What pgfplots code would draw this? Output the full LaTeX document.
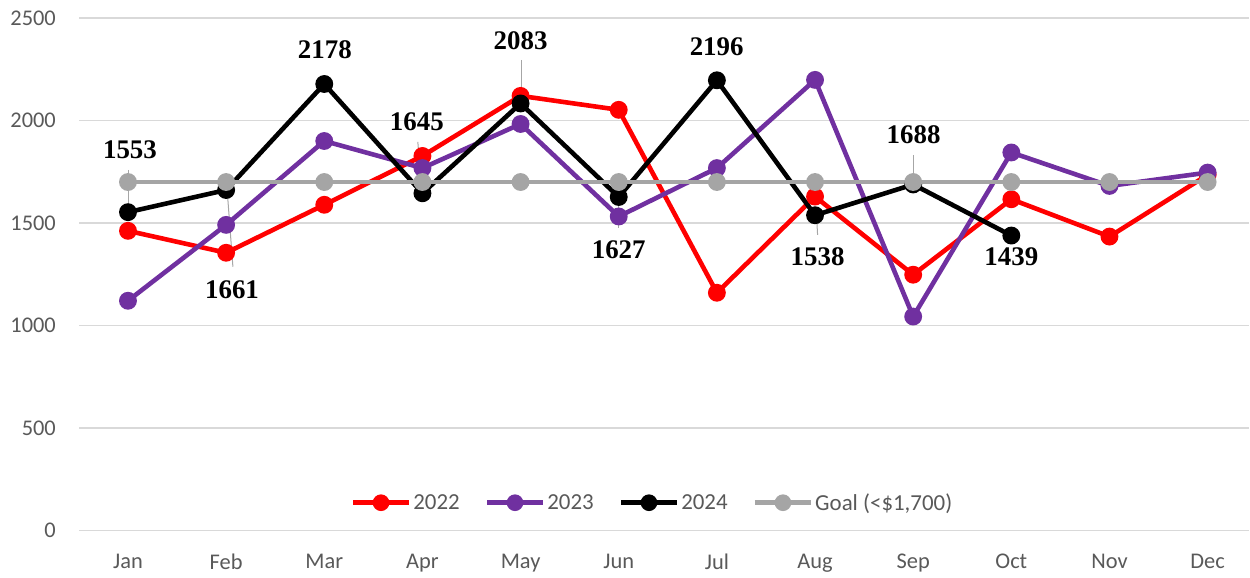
\documentclass[border=0pt]{standalone}
\usepackage{pgfplots}
\pgfplotsset{compat=1.18}
\usepackage{fontspec}
\setmainfont{Carlito}
\newfontfamily\labfont{Liberation Serif}
\definecolor{c22}{HTML}{FF0000}
\definecolor{c23}{HTML}{7030A0}
\definecolor{goal}{HTML}{A5A5A5}
\definecolor{grd}{HTML}{D9D9D9}
\definecolor{tk}{HTML}{595959}
\definecolor{lead}{HTML}{A6A6A6}
\begin{document}
\begin{tikzpicture}
\begin{axis}[
  width=1171bp, height=513bp, scale only axis,
  xmin=-0.499, xmax=11.425, ymin=0, ymax=2500,
  axis line style={draw=none},
  ytick={0,500,1000,1500,2000,2500},
  ymajorgrids, grid style={grd, line width=1.3bp},
  xtick={0,...,11},
  xticklabels={Jan,Feb,Mar,Apr,May,Jun,Jul,Aug,Sep,Oct,Nov,Dec},
  major tick length=0pt,
  /pgf/number format/assume math mode=true,
  /pgf/number format/1000 sep={},
  tick label style={font=\fontsize{22.5}{26}\selectfont, text=tk},
  yticklabel style={anchor=east, inner sep=0pt, xshift=-23bp},
  xticklabel style={anchor=north, inner sep=0pt, yshift=-23bp},
  clip=false,
  every axis plot/.append style={line width=4.6bp, mark=*, mark size=6.6bp, mark options={solid}},
  legend columns=4,
  legend style={at={(rel axis cs:0.490,0.0545)}, anchor=center, draw=none, fill=white,
    font=\fontsize{23}{26}\selectfont, text=tk,
    nodes={inner sep=2bp},
    /tikz/every even column/.append style={column sep=23bp},
    inner sep=1bp},
  legend image code/.code={\draw[mark repeat=2,mark phase=2,mark size=6bp] plot coordinates {(0bp,0bp) (28bp,0bp) (56bp,0bp)};},
]
\path (rel axis cs:-0.0675,-0.0916) rectangle (rel axis cs:1,1.035);

\addplot[c22] coordinates {(0,1462) (1,1355) (2,1589) (3,1827) (4,2120) (5,2052) (6,1160) (7,1629) (8,1248) (9,1616) (10,1434) (11,1735)};
\addlegendentry{2022}
\addplot[c23] coordinates {(0,1121) (1,1491) (2,1900) (3,1768) (4,1983) (5,1532) (6,1768) (7,2198) (8,1044) (9,1844) (10,1681) (11,1746)};
\addlegendentry{2023}
\addplot[black] coordinates {(0,1553) (1,1661) (2,2178) (3,1645) (4,2083) (5,1627) (6,2196) (7,1538) (8,1688) (9,1439)};
\addlegendentry{2024}
\addplot[goal] coordinates {(0,1700) (1,1700) (2,1700) (3,1700) (4,1700) (5,1700) (6,1700) (7,1700) (8,1700) (9,1700) (10,1700) (11,1700)};
\addlegendentry{Goal (<\$1,700)}

% leader lines
\draw[lead, line width=1bp] (axis cs:0.01,1759) -- (axis cs:0.01,1553);
\draw[lead, line width=1bp] (axis cs:1.008,1676) -- (axis cs:1.069,1287);
\draw[lead, line width=1bp] (axis cs:2.953,1896) -- (axis cs:2.994,1647);
\draw[lead, line width=1bp] (axis cs:4.012,2295) -- (axis cs:4.012,2086);
\draw[lead, line width=1bp] (axis cs:5.0,1623) -- (axis cs:5.0,1477);
\draw[lead, line width=1bp] (axis cs:7.016,1530) -- (axis cs:7.026,1442);
\draw[lead, line width=1bp] (axis cs:8.004,1832) -- (axis cs:8.004,1701);

% data labels
\begin{scope}[every node/.style={font=\labfont\bfseries\fontsize{27}{30}\selectfont, text=black}]
\node at (axis cs:0.02,1857) {1553};
\node at (axis cs:1.06,1174) {1661};
\node at (axis cs:2.006,2344) {2178};
\node at (axis cs:2.943,1993) {1645};
\node at (axis cs:4.0,2388) {2083};
\node at (axis cs:5.0,1369) {1627};
\node at (axis cs:5.998,2359) {2196};
\node at (axis cs:7.026,1335) {1538};
\node at (axis cs:8.004,1930) {1688};
\node at (axis cs:9.0,1335) {1439};
\end{scope}
\end{axis}
\end{tikzpicture}
\end{document}
